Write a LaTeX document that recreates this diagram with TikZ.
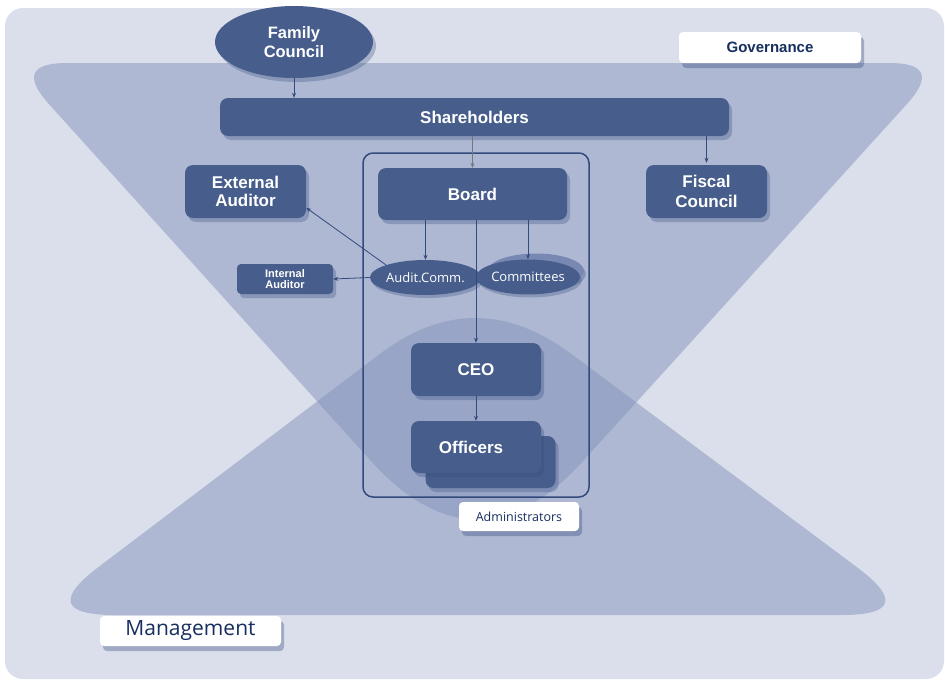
\documentclass[tikz,border=0pt]{standalone}
\usepackage{fontspec}
\setmainfont{Liberation Sans}
\newfontfamily\lblfont{Open Sans}
\usetikzlibrary{shapes.geometric,shadows,arrows.meta}
\definecolor{bgblue}{RGB}{219,222,235}
\definecolor{trifill}{RGB}{131,148,187}
\definecolor{boxblue}{RGB}{71,94,140}
\definecolor{backblue}{RGB}{120,136,178}
\definecolor{lineblue}{RGB}{50,74,124}
\definecolor{txtblue}{RGB}{22,46,96}
\definecolor{greyline}{RGB}{115,118,130}
\tikzset{
  unit/.style={rectangle, rounded corners=8pt, fill=boxblue, text=white, inner sep=0pt, align=center,
    font=\bfseries\fontsize{17}{19}\selectfont,
    drop shadow={shadow xshift=3pt, shadow yshift=-4pt, opacity=0.3, fill=lineblue}},
  oval/.style={ellipse, fill=boxblue, text=white, inner sep=0pt, font=\lblfont\fontsize{13}{15}\selectfont,
    drop shadow={shadow xshift=2pt, shadow yshift=-3pt, opacity=0.3, fill=lineblue}},
  tag/.style={rectangle, rounded corners=4pt, fill=white, text=txtblue, inner sep=0pt,
    drop shadow={shadow xshift=3pt, shadow yshift=-5pt, opacity=0.35, fill=lineblue}},
  conn/.style={lineblue, line width=0.8pt, -{Stealth[length=5pt,width=4pt]}},
  area/.style={trifill, fill opacity=0.5},
}

\begin{document}
\begin{tikzpicture}[x=1pt, y=-1pt]
    \useasboundingbox (0,0) rectangle (945,680);
    \fill[bgblue, rounded corners=18pt] (5,8) rectangle (944,679);

    % governance and management areas
    \fill[area] (67,63) -- (889,63) .. controls (925.7,63) and (931.7,76.6) .. (907.1,103.8)
      -- (584,460) .. controls (512.7,539.3) and (441.3,539.3) .. (370,460)
      -- (48.8,103.9) .. controls (24.3,76.6) and (30.3,63) .. (67,63) -- cycle;
    \fill[area] (115,615) -- (841,615) .. controls (894.3,615) and (899.6,599.1) .. (856.9,567.2)
      -- (571.4,354) .. controls (507,306) and (443.3,306) .. (379.8,354)
      -- (98.8,566.8) .. controls (56.3,598.9) and (61.7,615) .. (115,615) -- cycle;

    \node [draw=lineblue, line width=1.5pt, rounded corners=10pt, minimum width=226pt, minimum height=344pt] (adm) at (476,325) {};

    \node [unit, ellipse, rounded corners=0pt, minimum width=158pt, minimum height=72pt, font=\bfseries\fontsize{16.5}{19}\selectfont] (famc) at (294,42) {Family\\Council};
    \node [tag, minimum width=182pt, minimum height=31pt, font=\bfseries\fontsize{15}{17}\selectfont] (gov) at (770,47.5) {Governance};
    \node [unit, minimum width=509pt, minimum height=38pt] (share) at (474.5,117) {Shareholders};
    \node [unit, minimum width=189pt, minimum height=52pt] (board) at (472.5,194) {Board};
    \node [unit, minimum width=121pt, minimum height=53pt, font=\bfseries\fontsize{17}{18}\selectfont] (extaud) at (245.5,191.5) {External\\Auditor};
    \node [unit, minimum width=121pt, minimum height=53pt, font=\bfseries\fontsize{17}{20}\selectfont] (fiscal) at (706.5,191.5) {Fiscal\\Council};
    \node [unit, rounded corners=4pt, minimum width=96pt, minimum height=30pt, font=\bfseries\fontsize{11}{10.5}\selectfont] (intaud) at (285,279) {Internal\\Auditor};

    \node [oval, minimum width=91pt, minimum height=35pt] (audit) at (425.5,277.5) {Audit.Comm.};
    \node [oval, fill=backblue, minimum width=96pt, minimum height=35pt] (commback) at (536,271) {};
    \node [oval, minimum width=96pt, minimum height=35pt] (comm) at (528,277) {Committees};

    \node [unit, minimum width=130pt, minimum height=53pt] (ceo) at (476,369.5) {CEO};
    \node [unit, minimum width=130pt, minimum height=52pt] (offback) at (490.5,462) {};
    \node [unit, minimum width=130pt, minimum height=52pt] (officers) at (476,447) {\hspace*{-10pt}Officers};

    \node [tag, minimum width=120pt, minimum height=29pt, font=\lblfont\fontsize{12.5}{14}\selectfont] (admlbl) at (519,516.5) {Administrators};
    \node [tag, minimum width=181pt, minimum height=30pt, font=\lblfont\fontsize{21}{23}\selectfont] (mgmt) at (190.5,631) {Management};

    \draw [conn] (famc.south) -- (famc.south |- share.north);
    \draw [conn, greyline] (board.north |- share.south) -- (board.north);
    \draw [conn] (fiscal.north |- share.south) -- ([yshift=2pt]fiscal.north);
    \draw [conn] (audit.north |- board.south) -- (audit.north);
    \draw [conn] (comm.north |- board.south) -- (comm.north);
    \draw [conn] (ceo.north |- board.south) -- (ceo.north);
    \draw [conn] (ceo) -- (officers);
    \draw [conn] (audit.west) -- (intaud.east);
    \draw [conn] (audit.north west) -- (extaud.-15);
\end{tikzpicture}
\end{document}
